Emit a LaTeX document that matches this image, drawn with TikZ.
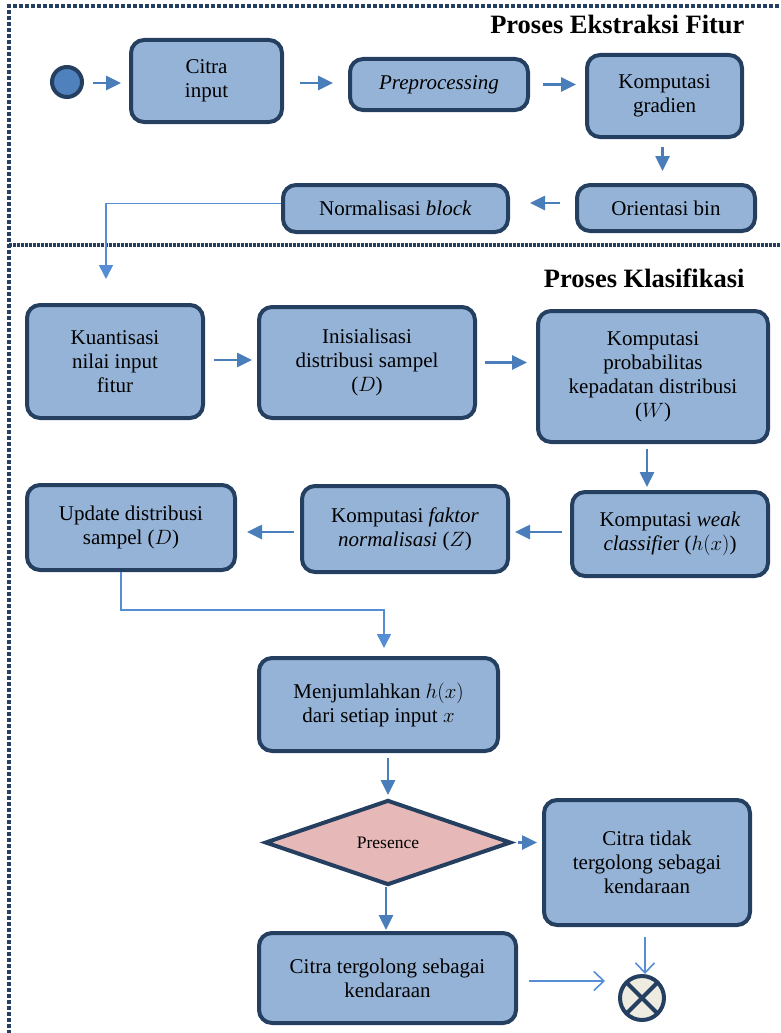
\documentclass[tikz,border=0pt]{standalone}
\usepackage{fontspec}
\setmainfont{Liberation Serif}
\usetikzlibrary{arrows.meta, positioning, shapes.geometric, calc}

\definecolor{boxfill}{HTML}{95B3D7}
\definecolor{navy}{HTML}{243F60}
\definecolor{arrowblue}{HTML}{4A7EBB}
\definecolor{lineblue}{HTML}{558ED5}
\definecolor{startfill}{HTML}{4F81BD}
\definecolor{decfill}{HTML}{E6B9B8}
\definecolor{endfill}{HTML}{EEECE1}

\begin{document}
\begin{tikzpicture}[
    x=1pt, y=-1pt,
    font=\fontsize{21}{24}\selectfont,
    box/.style={draw=navy, line width=4pt, fill=boxfill, rounded corners=13pt, align=center, inner sep=0pt},
    flow/.style={arrowblue, line width=2.6pt, -{Triangle[length=15pt,width=14pt]}},
    thinflow/.style={lineblue, line width=1.6pt, -{Triangle[length=14pt,width=14pt]}},
    openflow/.style={lineblue, line width=1.6pt, -{Straight Barb[length=10pt,width=19pt,line width=1.6pt]}},
    title/.style={font=\fontsize{26.5}{30}\selectfont\bfseries, anchor=base east}
]
    \useasboundingbox (0,0) rectangle (780,1033);

    % Frame
    \draw[navy, line width=3.6pt, dash pattern=on 3.6pt off 2.4pt] (9,1040) -- (9,6) -- (790,6);
    \draw[navy, line width=3.4pt, dash pattern=on 2.8pt off 1.2pt] (9,245) -- (790,245);
    \node[title] (t1) at (748,34) {Proses Ekstraksi Fitur};
    \node[title] (t2) at (748,287) {Proses Klasifikasi};

    % Nodes - ekstraksi fitur
    \node[circle, draw=navy, line width=4pt, fill=startfill, minimum size=30pt, inner sep=0pt] (start) at (67,82) {};
    \node[box, minimum width=151pt, minimum height=82pt] (citra) at (206.5,81) {Citra\\input};
    \node[box, minimum width=178pt, minimum height=51pt] (prep) at (439,84.5) {\textit{Preprocessing}};
    \node[box, minimum width=155pt, minimum height=82pt] (grad) at (664.5,96) {Komputasi\\gradien};
    \node[box, minimum width=178pt, minimum height=46pt] (orient) at (666,208) {Orientasi bin};
    \node[box, minimum width=225pt, minimum height=47pt] (norm) at (395.5,208.5) {Normalisasi \textit{block}};

    % Nodes - klasifikasi
    \node[box, minimum width=176pt, minimum height=113pt] (kuant) at (115,361.5) {Kuantisasi\\nilai input\\fitur};
    \node[box, minimum width=216pt, minimum height=111pt] (inis) at (367,362.5) {Inisialisasi\\distribusi sampel\\($D$)};
    \node[box, minimum width=230pt, minimum height=131pt] (prob) at (653,376.5) {Komputasi\\probabilitas\\kepadatan distribusi\\($W$)};
    \node[box, minimum width=196pt, minimum height=84pt] (weak) at (670,534) {Komputasi \textit{weak}\\\textit{classifie}r ($h(x)$)};
    \node[box, minimum width=206pt, minimum height=86pt] (faktor) at (405,529) {Komputasi \textit{faktor}\\\textit{normalisasi} ($Z$)};
    \node[box, minimum width=208pt, minimum height=85pt] (update) at (131,527.5) {Update distribusi\\sampel ($D$)};
    \node[box, minimum width=239pt, minimum height=93pt] (sum) at (378.5,704.5) {Menjumlahkan $h(x)$\\dari setiap input $x$};
    \node[diamond, draw=navy, line width=4pt, fill=decfill, minimum width=246pt, minimum height=85pt, inner sep=0pt, font=\fontsize{17.5}{20}\selectfont] (dec) at (388,842.5) {Presence};
    \node[box, minimum width=206pt, minimum height=125pt] (tidak) at (647,862.5) {Citra tidak\\tergolong sebagai\\kendaraan};
    \node[box, minimum width=257pt, minimum height=90pt] (tergolong) at (387.5,978) {Citra tergolong sebagai\\kendaraan};
    \node[circle, draw=navy, line width=4pt, fill=endfill, minimum size=44pt, inner sep=0pt,
        path picture={\draw[navy, line width=4pt] (path picture bounding box.north west) -- (path picture bounding box.south east)
            (path picture bounding box.north east) -- (path picture bounding box.south west);}] (stop) at (642,998) {};

    % Arrows - ekstraksi fitur
    \draw[flow, shorten <=9pt, shorten >=8pt] ([yshift=-1pt]start.east) -- ([yshift=-1pt]start.east -| citra.west);
    \draw[flow, shorten <=16pt, shorten >=15pt] ([yshift=-2pt]citra.east) -- ([yshift=-2pt]citra.east -| prep.west);
    \draw[flow, shorten <=13pt, shorten >=9pt] (prep.east) -- (prep.east -| grad.west);
    \draw[flow, shorten <=8pt, shorten >=12pt] ([xshift=-2pt]grad.south) -- ([xshift=-2pt]grad.south |- orient.north);
    \draw[flow, shorten <=15pt, shorten >=20pt] ([yshift=5pt]orient.west) -- ([yshift=5pt]orient.west -| norm.east);
    \draw[thinflow] ([yshift=5pt]norm.west) -| ([xshift=-9pt,yshift=24pt]kuant.north);

    % Arrows - klasifikasi
    \draw[flow, shorten <=9pt, shorten >=5pt] ([yshift=1.5pt]kuant.east) -- ([yshift=1.5pt]kuant.east -| inis.west);
    \draw[flow, shorten <=8pt, shorten >=9pt] (inis.east) -- (inis.east -| prob.west);
    \draw[flow, shorten <=5pt, shorten >=3pt] ([xshift=-6pt]prob.south) -- ([xshift=-6pt]prob.south |- weak.north);
    \draw[flow, shorten <=8pt, shorten >=5pt] ([yshift=2pt]weak.west) -- ([yshift=2pt]weak.west -| faktor.east);
    \draw[flow, shorten <=6pt, shorten >=10pt] ([yshift=-3pt]faktor.west) -- ([yshift=-3pt]faktor.west -| update.east);
    \draw[thinflow] ([xshift=-10pt]update.south) -- ++(0,38) -| ([xshift=5.5pt,yshift=8pt]sum.north);
    \draw[flow, shorten <=5pt, shorten >=3pt] (dec.north |- sum.south) -- (dec.north);
    \draw[flow, shorten <=5pt, shorten >=5pt] (dec.east) -- (dec.east -| tidak.west);
    \draw[flow, shorten >=1pt] ([xshift=-2pt]dec.south) -- ([xshift=-2pt]dec.south |- tergolong.north);
    \draw[openflow, shorten <=11pt, shorten >=13pt] ([yshift=-3pt]tergolong.east) -- ([yshift=-3pt]tergolong.east -| stop.west);
    \draw[openflow, shorten <=10pt] ([xshift=3pt]stop.north |- tidak.south) -- ([xshift=3pt]stop.north);
\end{tikzpicture}
\end{document}
